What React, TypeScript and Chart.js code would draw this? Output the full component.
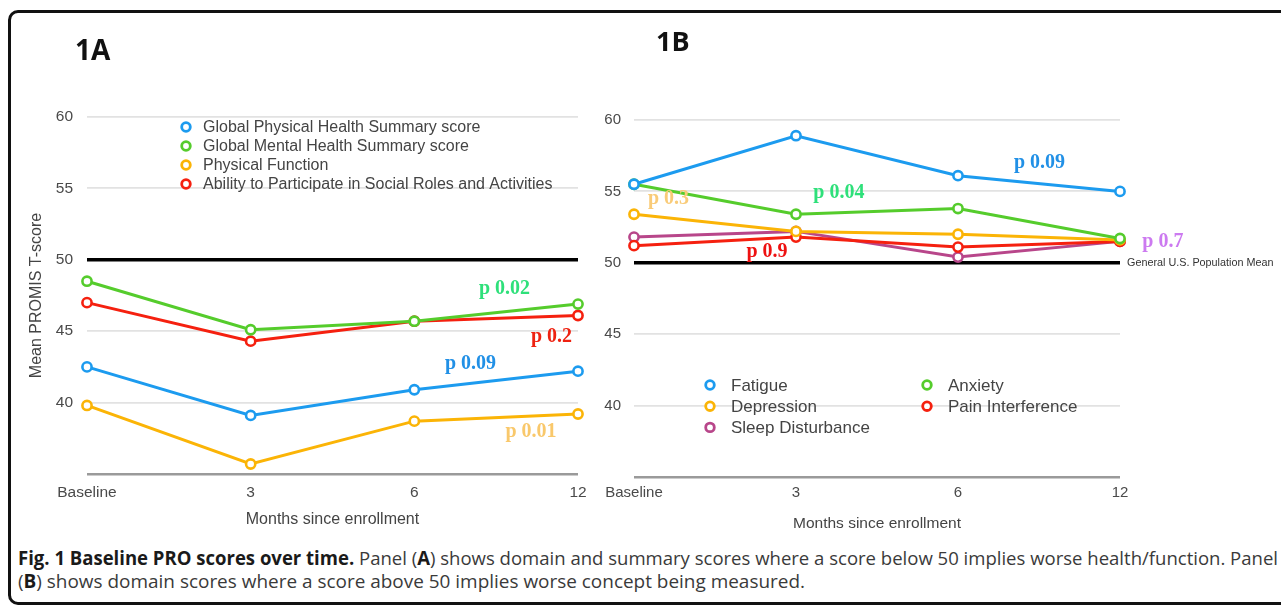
import React, { useEffect, useLayoutEffect, useRef } from 'react';
import { Chart, registerables } from 'chart.js';

Chart.register(...registerables);

// ---------- data ----------
const monthLabels = ['Baseline', '3', '6', '12'];
const yTickValues = [35, 40, 45, 50, 55, 60];

// Panel A (summary / domain scores)
const namesA = [
  'Global Physical Health Summary score',
  'Global Mental Health Summary score',
  'Physical Function',
  'Ability to Participate in Social Roles and Activities',
];
const globalPhysical = [42.5, 39.1, 40.9, 42.2];
const globalMental = [48.5, 45.1, 45.7, 46.9];
const physicalFunction = [39.8, 35.7, 38.7, 39.2];
const socialRoles = [47.0, 44.3, 45.7, 46.1];
const pValuesA = ['p 0.02', 'p 0.2', 'p 0.09', 'p 0.01'];

// Panel B (domain scores)
const namesB = ['Fatigue', 'Anxiety', 'Depression', 'Pain Interference', 'Sleep Disturbance'];
const fatigue = [55.5, 58.9, 56.1, 55.0];
const anxiety = [55.5, 53.4, 53.8, 51.7];
const depression = [53.4, 52.2, 52.0, 51.6];
const painInterference = [51.2, 51.8, 51.1, 51.5];
const sleepDisturbance = [51.8, 52.2, 50.4, 51.5];
const pValuesB = ['p 0.09', 'p 0.04', 'p 0.3', 'p 0.9', 'p 0.7'];

const populationMean = 50;
const populationMeanLabel = 'General U.S. Population Mean';

// ---------- styles ----------
const BLUE = '#1c9bef';
const GREEN = '#55cc2c';
const YELLOW = '#fbb406';
const RED = '#f5200f';
const PURPLE = '#b8468a';

const SANS = '"Liberation Sans", Arial, Helvetica, sans-serif';
const SERIF = '"Liberation Serif", "Times New Roman", serif';

// note placement (category index, value) for p-value labels
const notePosA = [
  { x: 2.551, y: 48.0, color: '#2ee07a' },
  { x: 2.838, y: 44.6, color: '#ee2211' },
  { x: 2.343, y: 42.75, color: '#2190e6' },
  { x: 2.713, y: 37.95, color: '#f9c86b' },
];
const notePosB = [
  { x: 2.503, y: 57.0, color: '#2190e6' },
  { x: 1.265, y: 54.9, color: '#2ee07a' },
  { x: 0.213, y: 54.45, color: '#f9cb78' },
  { x: 0.821, y: 50.75, color: '#ee1111' },
  { x: 3.265, y: 51.45, color: '#cc7af0' },
];

function makeDataset(label: string, data: number[], color: string) {
  return {
    label,
    data,
    borderColor: color,
    backgroundColor: '#ffffff',
    pointBackgroundColor: '#ffffff',
    pointBorderColor: color,
    pointRadius: 4.6,
    pointBorderWidth: 2.6,
    borderWidth: 3,
    tension: 0,
    clip: false as const,
  };
}

function makeOverlay(cfg: any) {
  return {
    id: 'overlay_' + cfg.key,
    afterDatasetsDraw(chart: any) {
      const ctx = chart.ctx as CanvasRenderingContext2D;
      const xs = chart.scales.x;
      const ys = chart.scales.y;
      ctx.save();
      if (cfg.refLabel) {
        ctx.font = cfg.refLabel.font;
        ctx.fillStyle = cfg.refLabel.color;
        ctx.textAlign = 'left';
        ctx.textBaseline = 'middle';
        ctx.fillText(cfg.refLabel.text, chart.chartArea.right + cfg.refLabel.dx, ys.getPixelForValue(cfg.refLabel.value));
      }
      ctx.font = cfg.noteFont;
      ctx.textAlign = 'center';
      ctx.textBaseline = 'middle';
      cfg.notes.forEach((n: any) => {
        ctx.fillStyle = n.color;
        ctx.fillText(n.text, xs.getPixelForValue(n.x), ys.getPixelForValue(n.y));
      });
      const lg = cfg.legend;
      ctx.font = lg.font;
      ctx.textAlign = 'left';
      ctx.textBaseline = 'middle';
      chart.data.datasets.forEach((ds: any, i: number) => {
        const col = i % lg.cols;
        const row = Math.floor(i / lg.cols);
        const mx = lg.x + col * lg.colW;
        const my = lg.y + row * lg.rowH;
        ctx.beginPath();
        ctx.arc(mx, my, 4.3, 0, Math.PI * 2);
        ctx.fillStyle = '#ffffff';
        ctx.fill();
        ctx.lineWidth = 2.8;
        ctx.strokeStyle = ds.borderColor;
        ctx.stroke();
        ctx.fillStyle = lg.color;
        ctx.fillText(ds.label, mx + lg.textDx, my + 1);
      });
      ctx.restore();
    },
  };
}

function gridColor(c: any) {
  const v = c.tick ? c.tick.value : null;
  if (v === populationMean) return '#000000';
  if (v === 35) return '#9a9a9a';
  return '#e2e2e2';
}
function gridWidth(c: any) {
  const v = c.tick ? c.tick.value : null;
  if (v === populationMean) return 3.5;
  if (v === 35) return 2.5;
  return 1.8;
}

function buildOptions(o: any) {
  return {
    responsive: false,
    maintainAspectRatio: false,
    animation: false as const,
    layout: { padding: o.padding },
    plugins: { legend: { display: false }, tooltip: { enabled: false }, title: { display: false } },
    scales: {
      x: {
        type: 'category' as const,
        offset: false,
        grid: { display: false, drawTicks: false },
        border: { display: false },
        ticks: { padding: o.xTickPad, color: '#4a4a4a', font: { family: SANS, size: o.tickSize }, maxRotation: 0, autoSkip: false },
        title: {
          display: true,
          text: 'Months since enrollment',
          color: '#444',
          font: { family: SANS, size: o.titleSize },
          padding: { top: 0, bottom: o.xTitlePadBottom },
        },
        afterFit: (s: any) => { s.height = o.xHeight; },
      },
      y: {
        min: yTickValues[0],
        max: yTickValues[yTickValues.length - 1],
        afterBuildTicks: (s: any) => { s.ticks = yTickValues.map((v) => ({ value: v })); },
        grid: { drawTicks: false, color: gridColor, lineWidth: gridWidth },
        border: { display: false },
        ticks: {
          padding: o.yTickPad,
          color: '#4a4a4a',
          font: { family: SANS, size: o.tickSize },
          callback: (v: any) => (v === 35 ? '' : String(v)),
        },
        title: {
          display: !!o.yTitle,
          text: o.yTitle || '',
          color: '#444',
          font: { family: SANS, size: o.titleSize },
          padding: { top: 0, bottom: 0 },
        },
        afterFit: (s: any) => { s.width = o.yWidth; },
      },
    },
  };
}

function PanelA() {
  const ref = useRef<HTMLCanvasElement>(null);
  useEffect(() => {
    const colors = [BLUE, GREEN, YELLOW, RED];
    const series = [globalPhysical, globalMental, physicalFunction, socialRoles];
    const chart = new Chart(ref.current as HTMLCanvasElement, {
      type: 'line',
      data: {
        labels: monthLabels,
        datasets: series.map((d, i) => makeDataset(namesA[i], d, colors[i])),
      },
      options: buildOptions({
        padding: { top: 117, right: 22, left: 27, bottom: 11 },
        yWidth: 60,
        xHeight: 60,
        yTickPad: 14,
        xTickPad: 9,
        xTitlePadBottom: 5,
        tickSize: 15.5,
        titleSize: 16,
        yTitle: 'Mean PROMIS T-score',
      }) as any,
      plugins: [
        makeOverlay({
          key: 'A',
          noteFont: 'bold 20px ' + SERIF,
          notes: pValuesA.map((t, i) => ({ text: t, ...notePosA[i] })),
          legend: { x: 186, y: 127, cols: 1, colW: 0, rowH: 19, textDx: 17, font: '16px ' + SANS, color: '#444' },
        }),
      ],
    });
    return () => chart.destroy();
  }, []);
  return (
    <canvas ref={ref} width={600} height={545} style={{ position: 'absolute', left: 0, top: 0, width: 600, height: 545 }} />
  );
}

function PanelB() {
  const ref = useRef<HTMLCanvasElement>(null);
  useEffect(() => {
    const colors = [BLUE, GREEN, YELLOW, RED, PURPLE];
    const series = [fatigue, anxiety, depression, painInterference, sleepDisturbance];
    const chart = new Chart(ref.current as HTMLCanvasElement, {
      type: 'line',
      data: {
        labels: monthLabels,
        datasets: series.map((d, i) => makeDataset(namesB[i], d, colors[i])),
      },
      options: buildOptions({
        padding: { top: 120, right: 161, left: 0, bottom: 8 },
        yWidth: 44,
        xHeight: 60,
        yTickPad: 13,
        xTickPad: 7,
        xTitlePadBottom: 4,
        tickSize: 15,
        titleSize: 15.5,
        yTitle: '',
      }) as any,
      plugins: [
        makeOverlay({
          key: 'B',
          noteFont: 'bold 20px ' + SERIF,
          notes: pValuesB.map((t, i) => ({ text: t, ...notePosB[i] })),
          refLabel: { text: populationMeanLabel, value: populationMean, dx: 7, font: '10.8px ' + SANS, color: '#333' },
          legend: { x: 120, y: 385, cols: 2, colW: 217, rowH: 21.2, textDx: 21, font: '17px ' + SANS, color: '#444' },
        }),
      ],
    });
    return () => chart.destroy();
  }, []);
  return (
    <canvas ref={ref} width={691} height={545} style={{ position: 'absolute', left: 590, top: 0, width: 691, height: 545 }} />
  );
}

function Caption() {
  const line1Ref = useRef<HTMLSpanElement>(null);
  const line2Ref = useRef<HTMLSpanElement>(null);
  useLayoutEffect(() => {
    const fitOne = (el: HTMLSpanElement | null, target: number) => {
      if (!el) return;
      el.style.transform = 'none';
      const w = el.getBoundingClientRect().width;
      if (w > 0) el.style.transform = `scaleX(${target / w})`;
    };
    const fit = () => {
      fitOne(line1Ref.current, 1260);
      fitOne(line2Ref.current, 787);
    };
    fit();
    if ((document as any).fonts && (document as any).fonts.ready) (document as any).fonts.ready.then(fit);
  }, []);
  const bold = { fontWeight: 700, color: '#1a1a1a' } as const;
  const lineStyle = { display: 'inline-block', transformOrigin: '0 0' } as const;
  return (
    <div
      style={{
        position: 'absolute',
        left: 18,
        top: 547,
        fontFamily: '"Open Sans", sans-serif',
        fontSize: 19,
        lineHeight: '23px',
        color: '#3a3a3a',
        whiteSpace: 'nowrap',
      }}
    >
      <span ref={line1Ref} style={lineStyle}>
        <span style={bold}>Fig. 1 Baseline PRO scores over time.</span> Panel (<span style={bold}>A</span>) shows domain and summary
        scores where a score below 50 implies worse health/function. Panel
      </span>
      <br />
      <span ref={line2Ref} style={lineStyle}>
        (<span style={bold}>B</span>) shows domain scores where a score above 50 implies worse concept being measured.
      </span>
    </div>
  );
}

export default function App() {
  return (
    <div
      style={{
        position: 'fixed',
        left: 0,
        top: 0,
        width: 1281,
        height: 608,
        overflow: 'hidden',
        background: '#ffffff',
      }}
    >
      <div
        style={{
          position: 'absolute',
          left: 8,
          top: 10,
          width: 1290,
          height: 595,
          border: '3px solid #111',
          borderRadius: 10,
          boxSizing: 'border-box',
        }}
      />
      <PanelA />
      <PanelB />
      <div
        style={{
          position: 'absolute',
          left: 75,
          top: 35,
          fontFamily: '"Open Sans", sans-serif',
          fontWeight: 700,
          fontSize: 28,
          lineHeight: '28px',
          color: '#111',
        }}
      >
        1A
      </div>
      <div
        style={{
          position: 'absolute',
          left: 656,
          top: 27,
          fontFamily: '"Open Sans", sans-serif',
          fontWeight: 700,
          fontSize: 27,
          lineHeight: '27px',
          color: '#111',
        }}
      >
        1B
      </div>
      <Caption />
    </div>
  );
}
